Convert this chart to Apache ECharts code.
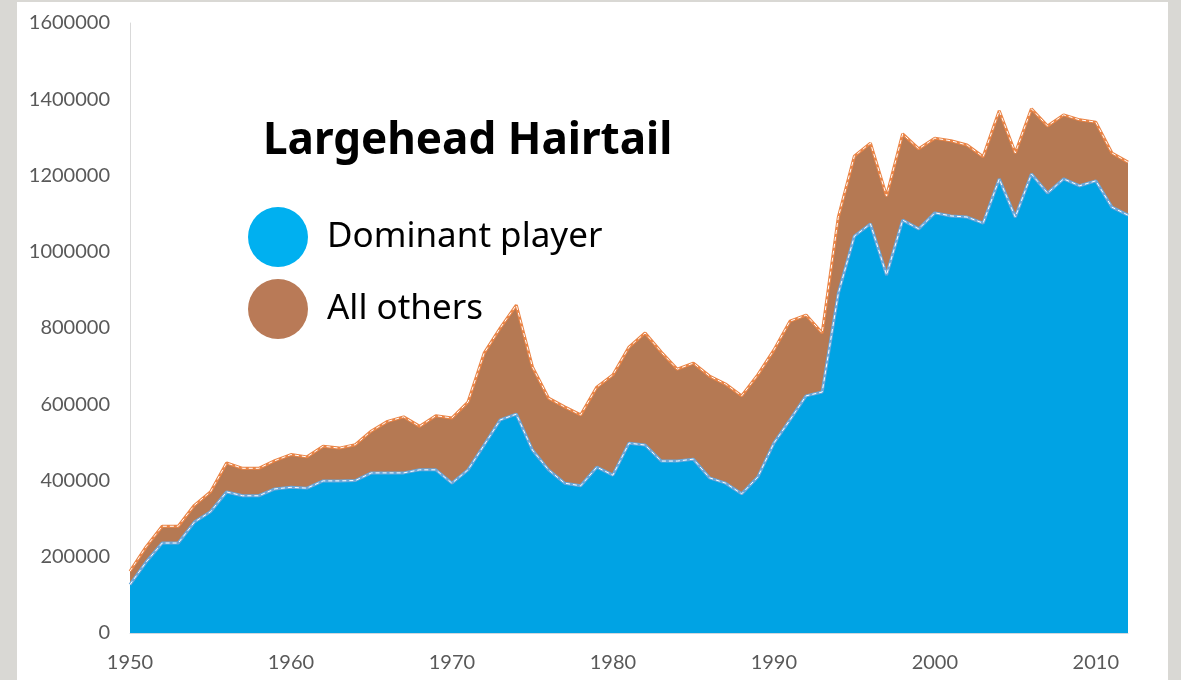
<!DOCTYPE html>
<html>
<head>
<meta charset="utf-8">
<title>Largehead Hairtail</title>
<script src="https://cdn.jsdelivr.net/npm/echarts@6/dist/echarts.min.js"></script>
<style>
    html, body { margin: 0; padding: 0; }
    body {
        width: 1181px;
        height: 680px;
        position: relative;
        overflow: hidden;
        background: #d9d8d4;
    }
    .panel {
        position: absolute;
        left: 17px;
        top: 2px;
        width: 1151px;
        height: 678px;
        background: #ffffff;
    }
    #chart {
        position: absolute;
        left: 0;
        top: 0;
        width: 1181px;
        height: 680px;
    }
</style>
</head>
<body>
<div class="panel"></div>
<div id="chart"></div>
<script>
// catch by year, 1950-2012
const years = [
    1950, 1951, 1952, 1953, 1954, 1955, 1956, 1957, 1958, 1959,
    1960, 1961, 1962, 1963, 1964, 1965, 1966, 1967, 1968, 1969,
    1970, 1971, 1972, 1973, 1974, 1975, 1976, 1977, 1978, 1979,
    1980, 1981, 1982, 1983, 1984, 1985, 1986, 1987, 1988, 1989,
    1990, 1991, 1992, 1993, 1994, 1995, 1996, 1997, 1998, 1999,
    2000, 2001, 2002, 2003, 2004, 2005, 2006, 2007, 2008, 2009,
    2010, 2011, 2012
];

const dominantPlayer = [
    127000, 186000, 236000, 236000, 291000, 318000, 370000, 360000, 360000, 378000,
    382000, 380000, 399000, 399000, 400000, 420000, 420000, 420000, 428000, 428000,
    393000, 428000, 493000, 559000, 574000, 480000, 428000, 393000, 386000, 435000,
    414000, 498000, 493000, 451000, 451000, 456000, 407000, 393000, 365000, 409000,
    498000, 559000, 622000, 632000, 890000, 1041000, 1073000, 939000, 1083000, 1060000,
    1102000, 1094000, 1091000, 1075000, 1191000, 1091000, 1204000, 1154000, 1191000, 1173000,
    1186000, 1117000, 1096000
];

const allOthers = [
    35000, 40000, 44000, 44000, 44000, 52000, 76000, 72000, 72000, 74000,
    86000, 82000, 91000, 86000, 94000, 110000, 135000, 147000, 114000, 142000,
    171000, 178000, 241000, 241000, 286000, 218000, 188000, 200000, 186000, 210000,
    263000, 252000, 294000, 286000, 241000, 252000, 267000, 260000, 257000, 268000,
    244000, 259000, 212000, 155000, 200000, 210000, 212000, 207000, 226000, 210000,
    196000, 197000, 189000, 174000, 179000, 168000, 171000, 176000, 168000, 173000,
    154000, 142000, 139000
];

const seriesNames = ["Dominant player", "All others"];

const labelFont = "Lato, 'Liberation Sans', sans-serif";
const textFont = "'Noto Sans', 'Open Sans', sans-serif";

const chart = echarts.init(document.getElementById("chart"), null, { renderer: "canvas" });

const option = {
    backgroundColor: "transparent",
    animation: false,
    title: {
        text: "Largehead Hairtail",
        left: 258,
        top: 114,
        textStyle: {
            fontFamily: textFont,
            fontSize: 44,
            fontWeight: "bold",
            color: "#000000"
        }
    },
    legend: {
        orient: "vertical",
        left: 243,
        top: 202,
        itemWidth: 60,
        itemHeight: 60,
        itemGap: 12,
        icon: "circle",
        itemStyle: { borderWidth: 0 },
        textStyle: {
            fontFamily: textFont,
            fontSize: 35,
            color: "#000000",
            padding: [0, 0, 0, 14]
        },
        data: [
            { name: seriesNames[0], itemStyle: { color: "#00B0F0" } },
            { name: seriesNames[1], itemStyle: { color: "#B97A57" } }
        ]
    },
    grid: { left: 130, right: 53, top: 23, bottom: 47 },
    xAxis: {
        type: "category",
        data: years.map(String),
        boundaryGap: false,
        splitLine: { show: false },
        axisTick: { show: false },
        axisLine: { show: true, lineStyle: { color: "#d0d7de", width: 1 } },
        axisLabel: {
            interval: (i) => i % 10 === 0,
            margin: 20,
            color: "#595959",
            fontFamily: labelFont,
            fontSize: 20
        }
    },
    yAxis: {
        type: "value",
        min: 0,
        max: 1600000,
        interval: 200000,
        splitLine: { show: false },
        axisTick: { show: false },
        axisLine: { show: true, lineStyle: { color: "#d9d9d9", width: 1 } },
        axisLabel: {
            margin: 20,
            color: "#595959",
            fontFamily: labelFont,
            fontSize: 20,
            formatter: (v) => String(v)
        }
    },
    series: [
        {
            name: seriesNames[0],
            type: "line",
            stack: "total",
            data: dominantPlayer,
            showSymbol: false,
            symbol: "none",
            color: "#00A3E4",
            lineStyle: { color: "#6BA7DA", width: 3 },
            areaStyle: { color: "#00A3E4", opacity: 1 },
            z: 2
        },
        {
            name: seriesNames[1],
            type: "line",
            stack: "total",
            data: allOthers,
            showSymbol: false,
            symbol: "none",
            color: "#B57953",
            lineStyle: { color: "#EA8446", width: 3 },
            areaStyle: { color: "#B57953", opacity: 1 },
            z: 2
        },
        // thin white dashes running along both outlines
        {
            name: "dash-dominant",
            type: "line",
            stack: "dash",
            data: dominantPlayer,
            symbol: "none",
            silent: true,
            lineStyle: { color: "#ffffff", width: 1, type: [4, 3] },
            z: 3
        },
        {
            name: "dash-others",
            type: "line",
            stack: "dash",
            data: allOthers,
            symbol: "none",
            silent: true,
            lineStyle: { color: "#ffffff", width: 1, type: [4, 3] },
            z: 3
        }
    ]
};

chart.setOption(option);

window.addEventListener("resize", () => chart.resize());
</script>
</body>
</html>
